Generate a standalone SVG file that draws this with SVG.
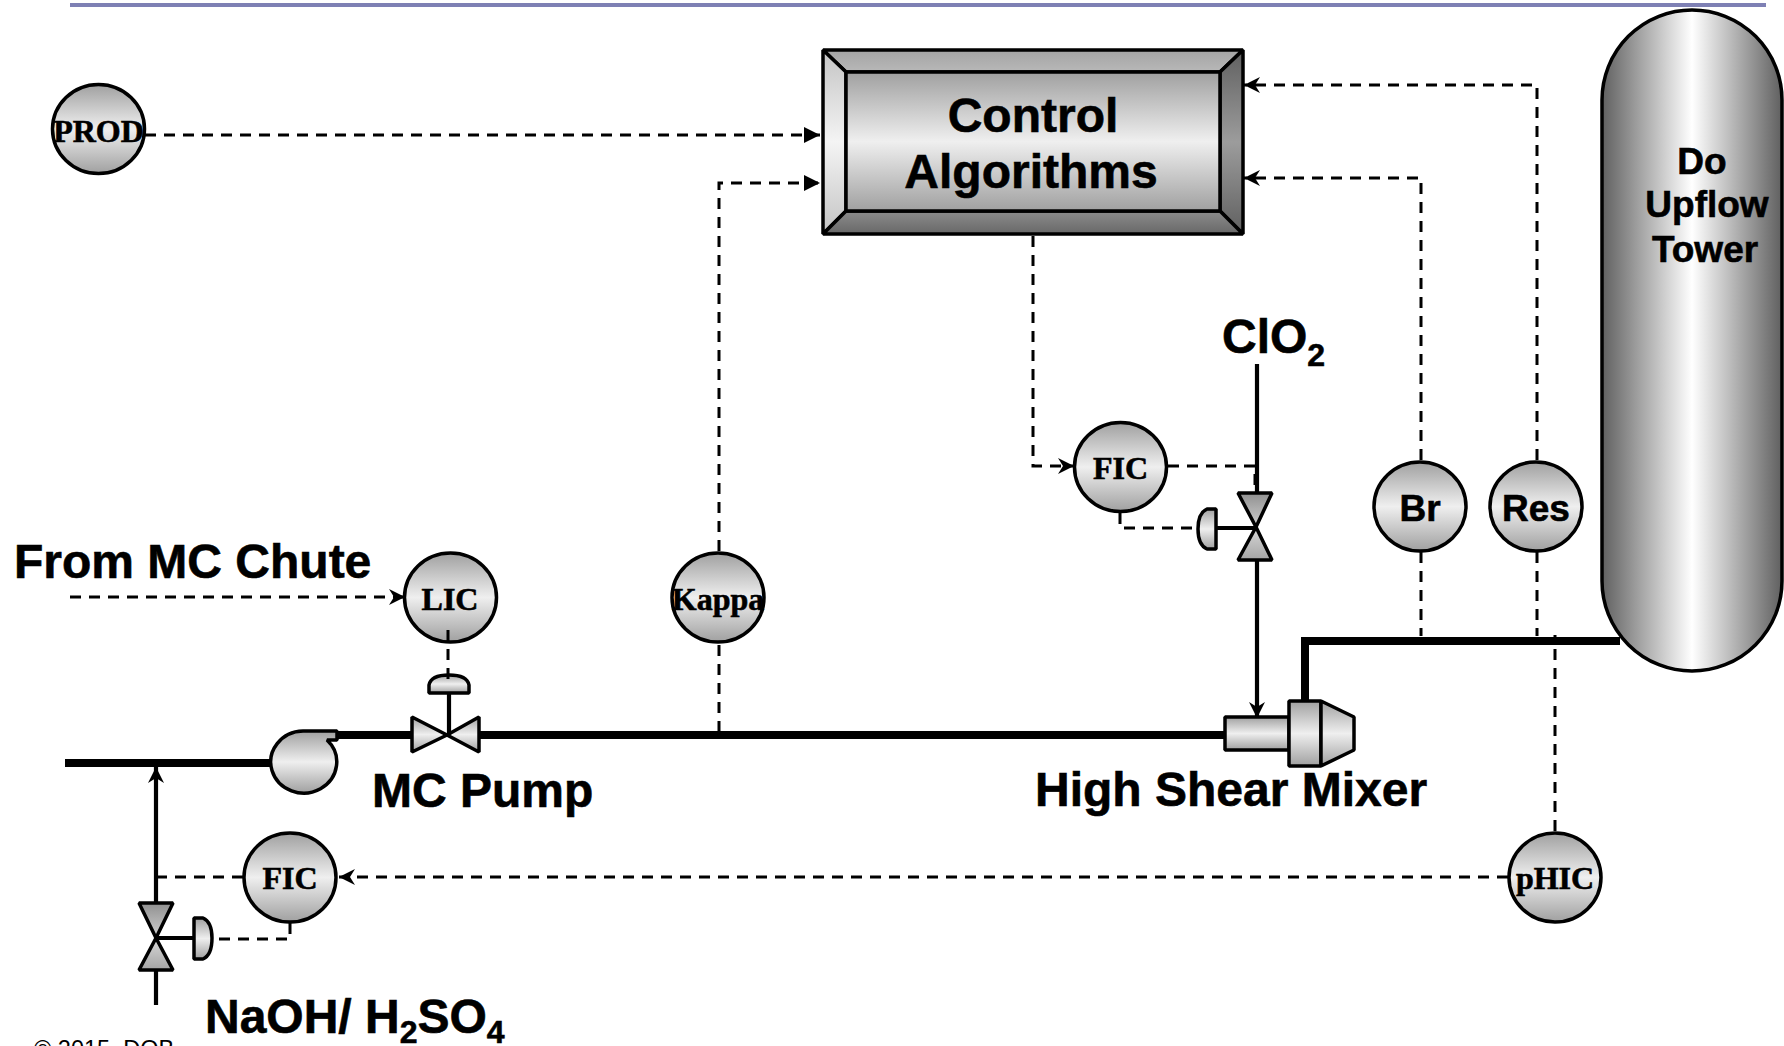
<svg xmlns="http://www.w3.org/2000/svg" width="1784" height="1046" viewBox="0 0 1784 1046">
<style>
text{font-family:"Liberation Sans",Arial,sans-serif;font-weight:bold;fill:#000;stroke:#000;stroke-width:.6}
.t48{font-size:48px}
.t36{font-size:37px}
.ser{font-family:"Liberation Serif","Times New Roman",serif;font-size:32px;text-anchor:middle}
.mid{text-anchor:middle}
.s{stroke:#000;stroke-width:3.500;stroke-linejoin:bevel}
.d{fill:none;stroke:#000;stroke-width:3;stroke-dasharray:11 8}
.p{fill:none;stroke:#000;stroke-width:8}
.l{fill:none;stroke:#000;stroke-width:4.200}
.a1{marker-end:url(#fill)}
.a2{marker-end:url(#barb)}
</style>
<defs>
<linearGradient id="g" x1="0" y1="0" x2="0" y2="1"><stop offset="0" stop-color="#a0a0a0"/><stop offset=".5" stop-color="#efefef"/><stop offset="1" stop-color="#a0a0a0"/></linearGradient>
<linearGradient id="tower" x1="0" y1="0" x2="1" y2="0"><stop offset="0" stop-color="#606060"/><stop offset=".5" stop-color="#ffffff"/><stop offset="1" stop-color="#606060"/></linearGradient>
<linearGradient id="bl" x1="0" y1="0" x2="0" y2="1"><stop offset="0" stop-color="#c4c4c4"/><stop offset=".5" stop-color="#f4f4f4"/><stop offset="1" stop-color="#c4c4c4"/></linearGradient>
<linearGradient id="br" x1="0" y1="0" x2="0" y2="1"><stop offset="0" stop-color="#606060"/><stop offset=".5" stop-color="#9c9c9c"/><stop offset="1" stop-color="#606060"/></linearGradient>
<linearGradient id="bt" x1="0" y1="0" x2="0" y2="1"><stop offset="0" stop-color="#a4a4a4"/><stop offset="1" stop-color="#b8b8b8"/></linearGradient>
<linearGradient id="bb" x1="0" y1="0" x2="0" y2="1"><stop offset="0" stop-color="#8c8c8c"/><stop offset="1" stop-color="#686868"/></linearGradient>
<linearGradient id="vt" x1="0" y1="0" x2="0" y2="1"><stop offset="0" stop-color="#909090"/><stop offset="1" stop-color="#d0d0d0"/></linearGradient>
<linearGradient id="vb" x1="0" y1="0" x2="0" y2="1"><stop offset="0" stop-color="#d8d8d8"/><stop offset="1" stop-color="#a4a4a4"/></linearGradient>
<marker id="fill" markerUnits="userSpaceOnUse" markerWidth="18" markerHeight="18" refX="16" refY="8" orient="auto"><path d="M0,0 L16,8 L0,16 Z" fill="#000"/></marker>
<marker id="barb" markerUnits="userSpaceOnUse" markerWidth="20" markerHeight="20" refX="16" refY="9" orient="auto"><path d="M0,1 L16,9 L0,17 L5,9 Z" fill="#000"/></marker>
</defs>
<rect id="rule" x="70" y="3" width="1696" height="4" fill="#7e80b4"/>
<g id="control-algorithms">
<path d="M823,50 H1243 L1220,72 H846 Z" fill="url(#bt)" class="s"/>
<path d="M823,50 L846,72 V211 L823,234 Z" fill="url(#bl)" class="s"/>
<path d="M1243,50 L1220,72 V211 L1243,234 Z" fill="url(#br)" class="s"/>
<path d="M823,234 L846,211 H1220 L1243,234 Z" fill="url(#bb)" class="s"/>
<rect x="846" y="72" width="374" height="139" fill="url(#g)" class="s"/>
<text class="t48 mid" x="1033" y="132">Control</text>
<text class="t48 mid" x="1031" y="188">Algorithms</text>
</g>
<g id="tower-node">
<path d="M1602,100 A90,90 0 0 1 1782,100 V581 A90,90 0 0 1 1602,581 Z" fill="url(#tower)" class="s"/>
<text class="t36 mid" x="1702" y="174">Do</text>
<text class="t36 mid" x="1707" y="217">Upflow</text>
<text class="t36 mid" x="1705" y="262">Tower</text>
</g>
<g id="prod"><ellipse cx="98.500" cy="129" rx="46" ry="44.500" fill="url(#g)" class="s"/><text class="ser" x="98.500" y="142">PROD</text></g>
<g id="fic-clo2"><ellipse cx="1120.500" cy="467" rx="46" ry="44.500" fill="url(#g)" class="s"/><text class="ser" x="1120.500" y="479">FIC</text></g>
<g id="br-node"><ellipse cx="1420" cy="506.500" rx="46" ry="44.500" fill="url(#g)" class="s"/><text class="t36 mid" x="1420" y="521">Br</text></g>
<g id="res"><ellipse cx="1536" cy="506.500" rx="46" ry="44.500" fill="url(#g)" class="s"/><text class="t36 mid" x="1536" y="521">Res</text></g>
<g id="lic"><ellipse cx="450.500" cy="597.500" rx="46" ry="44.500" fill="url(#g)" class="s"/><text class="ser" x="450" y="610">LIC</text></g>
<g id="kappa"><ellipse cx="718" cy="597.500" rx="46" ry="44.500" fill="url(#g)" class="s"/><text class="ser" x="718" y="610">Kappa</text></g>
<g id="fic-naoh"><ellipse cx="290" cy="877.500" rx="46" ry="44.500" fill="url(#g)" class="s"/><text class="ser" x="290" y="889">FIC</text></g>
<g id="phic"><ellipse cx="1555" cy="877.500" rx="46" ry="44.500" fill="url(#g)" class="s"/><text class="ser" x="1555" y="889">pHIC</text></g>
<g id="pump"><path d="M337,731 H303 A33,31 0 1 0 327,740 H337 Z" fill="url(#g)" class="s"/></g>
<g id="lic-valve">
<path d="M412,717 L447,735 L412,752 Z" fill="url(#g)" class="s"/>
<path d="M479,717 L447,735 L479,752 Z" fill="url(#g)" class="s"/>
<path d="M449,693 V735" class="l"/>
<path d="M429,693 V685 Q431,675 449,675 Q467,675 469,685 V693 Z" fill="url(#g)" class="s"/>
</g>
<g id="clo2-valve">
<path d="M1238,493 H1272 L1256,527 Z" fill="url(#vt)" class="s"/>
<path d="M1238,560 H1272 L1256,527 Z" fill="url(#vb)" class="s"/>
<path d="M1216,528 H1256" class="l"/>
<path d="M1216,509 V549 H1207 Q1198,545 1198,529 Q1198,513 1207,509 Z" fill="url(#g)" class="s"/>
</g>
<g id="naoh-valve">
<path d="M139,903 H173 L156,938 Z" fill="url(#vt)" class="s"/>
<path d="M139,970 H173 L156,938 Z" fill="url(#vb)" class="s"/>
<path d="M156,938 H194" class="l"/>
<path d="M194,918 V959 H203 Q212,955 212,938 Q212,922 203,918 Z" fill="url(#g)" class="s"/>
</g>
<g id="mixer">
<rect x="1225" y="717" width="64" height="33" fill="url(#g)" class="s"/>
<rect x="1289" y="701" width="32" height="65" fill="url(#g)" class="s"/>
<path d="M1321,701 L1354,717 V750 L1321,766 Z" fill="url(#g)" class="s"/>
</g>
<g id="connectors">
<path class="d a1" d="M145,135 H820"/>
<path class="d a1" d="M719,551 V183 H820"/>
<path class="d" d="M719,645 V731"/>
<path class="d a2" d="M1537,460 V85 H1244"/>
<path class="d a2" d="M1421,460 V178 H1244"/>
<path class="d" d="M1421,552 V636"/>
<path class="d" d="M1537,552 V636"/>
<path class="d" d="M1555,831 V635"/>
<path class="d a2" d="M1033,236 V466 H1074"/>
<path class="d" d="M1168,466 H1255 V493"/>
<path class="d" d="M1120,513 V528 H1198"/>
<path class="d a2" d="M70,597 H405"/>
<path class="d" d="M448,630 V682"/>
<path class="d a2" d="M1508,877 H339"/>
<path class="d" d="M243,877 H156"/>
<path class="d" d="M290,923 V939 H213"/>
<path class="p" d="M65,763 H271"/>
<path class="p" d="M337,735 H412"/>
<path class="p" d="M479,735 H1225"/>
<path class="p" d="M1305,701 V641 H1620"/>
<path class="l" d="M1257,364 V493"/>
<path class="l a2" d="M1257,560 V718"/>
<path class="l a2" d="M156,903 V767"/>
<path class="l" d="M156,970 V1005"/>
</g>
<g id="labels">
<text class="t48" x="14" y="578">From MC Chute</text>
<text class="t48" x="372" y="807">MC Pump</text>
<text class="t48" x="1035" y="806">High Shear Mixer</text>
<text class="t48" x="1222" y="353">ClO<tspan font-size="32" dy="13">2</tspan></text>
<text class="t48" x="205" y="1033">NaOH/ H<tspan font-size="32" dy="10">2</tspan><tspan dy="-10">SO</tspan><tspan font-size="32" dy="10">4</tspan></text>
<text x="34" y="1057" style="font-weight:normal;font-size:23.500px;stroke:none">© 2015, DOB</text>
</g>
</svg>
